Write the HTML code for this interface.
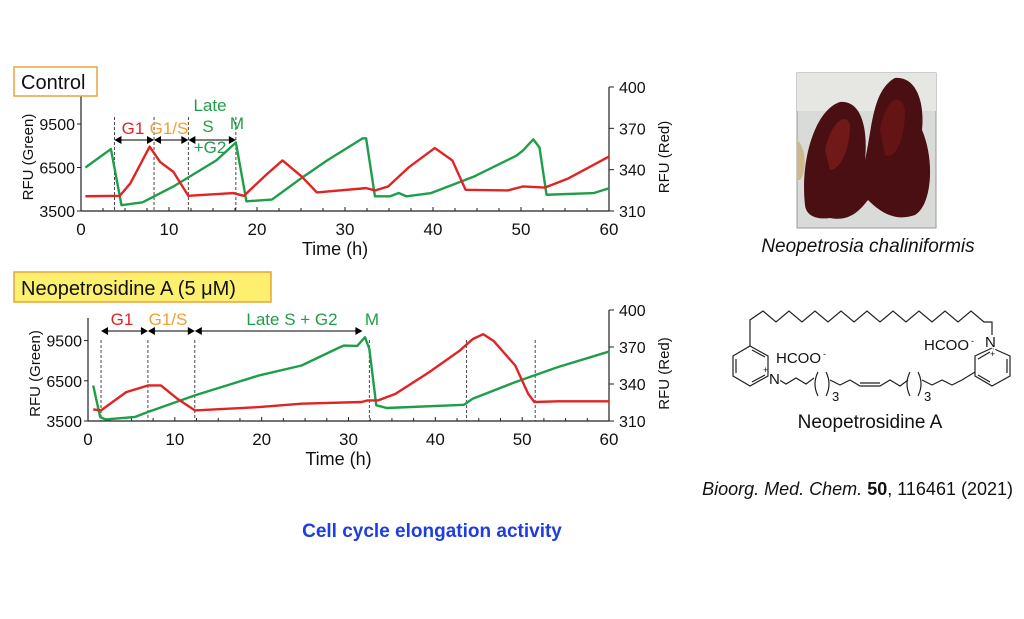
<!DOCTYPE html>
<html><head><meta charset="utf-8">
<style>
html,body{margin:0;padding:0;background:#fff;}
body{width:1024px;height:614px;overflow:hidden;position:relative;font-family:"Liberation Sans",Arial,sans-serif;}
svg text{font-family:"Liberation Sans",Arial,sans-serif;}
</style></head>
<body>
<svg id="fig" width="1024" height="614" viewBox="0 0 1024 614" xmlns="http://www.w3.org/2000/svg">
  <g id="chart1"></g>
  <g id="chart2"></g>

  <rect x="14" y="67" width="83" height="29" fill="#fff" stroke="#e8a33a" stroke-width="1.5"/>
  <text x="21" y="89" font-size="20" fill="#111">Control</text>
  <rect x="14" y="272" width="257" height="30" fill="#fdf06f" stroke="#e8a33a" stroke-width="1.5"/>
  <text x="21" y="295" font-size="20" fill="#111">Neopetrosidine A (5 μM)</text>

  <!-- photo -->
  <g>
    <rect x="797" y="73" width="139" height="155" fill="#d9dbd8" stroke="#999" stroke-width="1"/>
    <rect x="797" y="73" width="139" height="38" fill="#e6e6e3"/>
    <path d="M805 205 C 800 160, 815 110, 840 102 C 862 100, 868 130, 865 160 C 872 130, 872 90, 895 78 C 915 76, 925 100, 922 130 C 935 160, 932 205, 915 215 C 895 222, 880 212, 868 200 C 860 210, 850 222, 830 218 C 815 220, 806 215, 805 205 Z" fill="#4a0f12"/>
    <path d="M825 150 C 830 125, 845 110, 850 125 C 850 150, 840 170, 830 170 Z" fill="#7a1a1c" opacity="0.8"/>
    <path d="M880 130 C 885 100, 900 90, 905 110 C 905 140, 895 160, 885 155 Z" fill="#6b1518" opacity="0.8"/>
    <path d="M797 140 C 805 145, 808 170, 800 180 L797 180 Z" fill="#cdb98a"/>
  </g>
  <text x="868" y="252" font-size="19" font-style="italic" text-anchor="middle" fill="#111">Neopetrosia chaliniformis</text>

  <!-- structure -->
  <g fill="none" stroke="#222" stroke-width="1.2">
    <polyline points="750,346 750,320 763,311 776,322 789,311 802,322 815,311 828,322 841,311 854,322 867,311 880,322 893,311 906,322 919,311 932,322 945,311 958,322 971,311 984,322 992,322 992,335"/>
    <polygon points="750,346 768,356 768,376 750,386 733,376 733,356"/>
    <line x1="736" y1="359" x2="736" y2="373"/><line x1="752" y1="350" x2="765" y2="357"/><line x1="752" y1="382" x2="765" y2="375"/>
    <polyline points="776,378 786,384 796,378 806,384 814,378"/>
    <path d="M818 372 Q 812 384 818 396"/><path d="M826 372 Q 832 384 826 396"/>
    <polyline points="830,380 840,385 850,380 860,386 880,386 890,380 900,386 908,380"/>
    <line x1="860" y1="383" x2="880" y2="383"/>
    <path d="M910 372 Q 904 384 910 396"/><path d="M918 372 Q 924 384 918 396"/>
    <polyline points="922,380 932,385 942,380 952,385 962,380 975,372"/>
    <polygon points="992,348 1010,356 1010,376 992,386 975,376 975,356"/>
    <line x1="1007" y1="359" x2="1007" y2="373"/><line x1="978" y1="359" x2="990" y2="352"/><line x1="990" y1="382" x2="978" y2="375"/>
  </g>
  <g fill="#111">
    <text x="769" y="384" font-size="15" fill="#111" stroke="#fff" stroke-width="3" paint-order="stroke">N</text>
    <text x="763" y="373" font-size="9">+</text>
    <text x="776" y="363" font-size="15">HCOO</text><text x="823" y="357" font-size="9">-</text>
    <text x="985" y="347" font-size="15" stroke="#fff" stroke-width="3" paint-order="stroke" fill="#111">N</text>
    <text x="990" y="357" font-size="9">+</text>
    <text x="924" y="350" font-size="15">HCOO</text><text x="971" y="344" font-size="9">-</text>
    <text x="832" y="401" font-size="13">3</text>
    <text x="924" y="401" font-size="13">3</text>
  </g>
  <text x="870" y="428" font-size="19" text-anchor="middle" fill="#111">Neopetrosidine A</text>

  <text x="1013" y="495" font-size="18" text-anchor="end" fill="#111"><tspan font-style="italic">Bioorg. Med. Chem.</tspan> <tspan font-weight="bold">50</tspan>, 116461 (2021)</text>
  <text x="432" y="537" font-size="19" font-weight="bold" text-anchor="middle" fill="#1f3de0">Cell cycle elongation activity</text>
</svg>
<script>
// ---- Control chart data ----
const ctrlGreenT = [0.5,3.4,4.6,7,10.5,15.4,17.6,18.8,21.7,25,28,32,32.4,33.4,35.1,36.1,37,39.8,44.6,49.5,50.2,51.4,52.1,52.9,58.3,60];
const ctrlGreenV = [6500,7770,3900,4100,5190,7000,8220,4170,4290,5750,7000,8510,8510,4510,4510,4740,4510,4740,5860,7320,7660,8440,7880,4620,4740,5070];
const ctrlRedT = [0.5,4.4,5.6,7.8,9,10.5,12.2,17.3,18.5,21.2,22.9,25.1,26.8,32.4,33.4,34.9,37.3,40.2,42.2,43.7,48.5,50.2,52.7,55.4,60];
const ctrlRedV = [320.7,321,330,356.7,345.5,338.4,321,323,321,337.2,346.7,334.9,323.5,326.6,324.9,327.8,342,355.7,346.7,325.4,324.9,327.8,327,333.7,349.5];
const ctrlDashes = [3.8,8.3,12.2,17.6];
// ---- Neopetrosidine chart data ----
const neoGreenT = [0.6,1.4,2,5.4,6.9,12.3,19.7,24.6,29,29.5,31,31.9,32.4,33.2,34.4,43.3,44.3,49.2,54.1,60];
const neoGreenV = [6150,3800,3620,3800,4170,5410,6900,7640,9000,9130,9100,9750,8880,4670,4470,4710,5160,6400,7520,8680];
const neoRedT = [0.6,1.5,4.4,6.9,8.4,10.3,12.3,19.7,24.6,31.5,32.2,33.4,35.4,39.3,42.8,44.3,45.5,46.7,49.2,50.7,51.4,54.1,60];
const neoRedV = [319.4,318.6,333.4,338.8,338.8,328,318.6,321.3,324,325.4,326.7,326.7,332,349.6,367,376.4,380.4,375,355,332,325.4,326,326];
const neoDashes = [1.5,6.9,12.3,32.4,43.6,51.5];
const xTicks = [0,10,20,30,40,50,60];
const leftTicks = [3500,6500,9500];
const rightTicks = [310,340,370,400];

const NS='http://www.w3.org/2000/svg';
function mk(tag, attrs, parent){const e=document.createElementNS(NS,tag);for(const k in attrs)e.setAttribute(k,attrs[k]);parent.appendChild(e);return e;}

function drawChart(g, box, gT, gV, rT, rV, dashes, leftMax, xTitleY){
  const xs=t=>box.l+(t/60)*(box.r-box.l);
  const yl=v=>box.b-(v-3500)/(leftMax-3500)*(box.b-box.t);
  const yr=v=>box.b-(v-310)/90*(box.b-box.t);
  const ax={stroke:'#222','stroke-width':1.2,fill:'none'};
  const la=mk('line',Object.assign({x1:box.l,y1:box.t+8,x2:box.l,y2:box.b},ax),g);
  
  
  const ra=mk('line',Object.assign({x1:box.r,y1:box.t,x2:box.r,y2:box.b},ax),g);
  
  
  const ba=mk('line',Object.assign({x1:box.l,y1:box.b,x2:box.r,y2:box.b},ax),g);
  
  
  for(let t=0;t<=60;t+=2.5){mk('line',{x1:xs(t),y1:box.b,x2:xs(t),y2:box.b-(t%10===0?4:3),stroke:'#222','stroke-width':1},g);}
  xTicks.forEach(t=>{const e=mk('text',{x:xs(t),y:box.b+24,'font-size':17,'text-anchor':'middle',fill:'#111'},g);e.textContent=t;
    
    });
  leftTicks.forEach(v=>{mk('line',{x1:box.l-4,y1:yl(v),x2:box.l,y2:yl(v),stroke:'#222'},g);
    const e=mk('text',{x:box.l-6,y:yl(v)+6,'font-size':16,'text-anchor':'end',fill:'#111'},g);e.textContent=v;
    
    });
  rightTicks.forEach(v=>{mk('line',{x1:box.r,y1:yr(v),x2:box.r+5,y2:yr(v),stroke:'#222'},g);
    const e=mk('text',{x:box.r+10,y:yr(v)+6,'font-size':16,fill:'#111'},g);e.textContent=v;
    
    });
  const cy=(box.t+box.b)/2+8;
  const lt=mk('text',{x:0,y:0,'font-size':15,'text-anchor':'middle',fill:'#111',transform:`translate(${box.l-48},${cy}) rotate(-90)`},g);
  lt.textContent='RFU (Green)';
  
  
  const rt=mk('text',{x:0,y:0,'font-size':15,'text-anchor':'middle',fill:'#111',transform:`translate(${box.r+60},${cy}) rotate(-90)`},g);
  rt.textContent='RFU (Red)';
  
  
  const xt=mk('text',{x:(box.l+box.r)/2-10,y:xTitleY,'font-size':18,'text-anchor':'middle',fill:'#111'},g);
  xt.textContent=g.id==='chart1'?'Time  (h)':'Time (h)';
  
  
  dashes.forEach(t=>{const d=mk('line',{x1:xs(t),y1:box.t+30,x2:xs(t),y2:box.b,stroke:'#333','stroke-width':0.9,'stroke-dasharray':'3,2'},g);
    
    });
  const gp=mk('polyline',{points:gT.map((t,i)=>xs(t)+','+yl(gV[i])).join(' '),fill:'none',stroke:'#1f9e4a','stroke-width':2.4,'stroke-linejoin':'round'},g);
  
  
  const rp=mk('polyline',{points:rT.map((t,i)=>xs(t)+','+yr(rV[i])).join(' '),fill:'none',stroke:'#e02424','stroke-width':2.4,'stroke-linejoin':'round'},g);
  
  
  return xs;
}
function arrow(g,x1,x2,y){
  mk('line',{x1:x1+5,y1:y,x2:x2-5,y2:y,stroke:'#555','stroke-width':1.5},g);
  mk('polygon',{points:`${x1},${y} ${x1+7},${y-4} ${x1+7},${y+4}`,fill:'#000'},g);
  mk('polygon',{points:`${x2},${y} ${x2-7},${y-4} ${x2-7},${y+4}`,fill:'#000'},g);
}
function label(g,txt,x,y,col,name){const e=mk('text',{x:x,y:y,'font-size':17,'text-anchor':'middle',fill:col},g);e.textContent=txt;
  
  }

const g1=document.getElementById('chart1');
const xs1=drawChart(g1,{l:81,r:609,t:87,b:211},ctrlGreenT,ctrlGreenV,ctrlRedT,ctrlRedV,ctrlDashes,12050,255);
arrow(g1,xs1(3.8),xs1(8.3),140);arrow(g1,xs1(8.3),xs1(12.2),140);arrow(g1,xs1(12.2),xs1(17.6),140);
label(g1,'G1',133,134,'#e02424','g1-label');
label(g1,'G1/S',169,134,'#f0a030','g1s-label');
label(g1,'Late',210,111,'#1f9e4a','late-label');
label(g1,'S',208,132,'#1f9e4a','s-label');
label(g1,'+G2',210,153,'#1f9e4a','g2-label');
label(g1,'M',237,129,'#1f9e4a','m-label');

const g2=document.getElementById('chart2');
const xs2=drawChart(g2,{l:88,r:609,t:310,b:421},neoGreenT,neoGreenV,neoRedT,neoRedV,neoDashes,11780,465);
arrow(g2,xs2(1.5),xs2(6.9),331);arrow(g2,xs2(6.9),xs2(12.3),331);arrow(g2,xs2(12.3),xs2(31.6),331);
label(g2,'G1',122,325,'#e02424','g1-label');
label(g2,'G1/S',168,325,'#f0a030','g1s-label');
label(g2,'Late S + G2',292,325,'#1f9e4a','late-s-g2-label');
label(g2,'M',372,325,'#1f9e4a','m-label');
</script>
</body></html>
